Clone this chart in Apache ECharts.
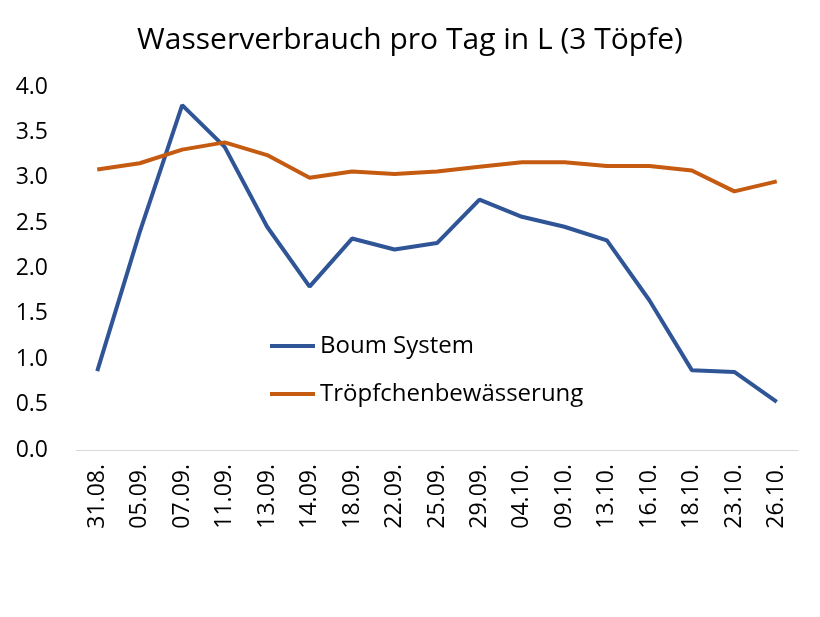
<!DOCTYPE html>
<html><head><meta charset="utf-8">
<script src="https://cdn.jsdelivr.net/npm/echarts@6/dist/echarts.min.js"></script>
<style>html,body{margin:0;padding:0;background:#fff}#c{width:820px;height:617px}</style>
</head><body><div id="c"></div>
<script>
const categories = ['31.08.','05.09.','07.09.','11.09.','13.09.','14.09.','18.09.','22.09.','25.09.','29.09.','04.10.','09.10.','13.10.','16.10.','18.10.','23.10.','26.10.'];
const boumSystem = [0.87,2.40,3.80,3.34,2.46,1.80,2.33,2.21,2.28,2.76,2.57,2.46,2.31,1.65,0.88,0.86,0.53];
const troepfchen = [3.09,3.16,3.31,3.39,3.25,3.00,3.07,3.04,3.07,3.12,3.17,3.17,3.13,3.13,3.08,2.85,2.96];
const yTicks = {min:0, max:4, interval:0.5};
const FONT = '"Open Sans", sans-serif';
const chart = echarts.init(document.getElementById('c'));
chart.setOption({
  animation:false,
  backgroundColor:'#fff',
  title:{text:'Wasserverbrauch pro Tag in L (3 Töpfe)',left:'center',top:20,
    textStyle:{fontFamily:FONT,fontSize:30,fontWeight:'normal',color:'#000'}},
  legend:{orient:'vertical',left:265,top:329,itemGap:24,icon:'rect',itemWidth:45,itemHeight:4,
    textStyle:{fontFamily:FONT,fontSize:24,color:'#000'},
    data:['Boum System','Tröpfchenbewässerung']},
  grid:{left:76,right:22,top:87,bottom:167,containLabel:false},
  xAxis:{type:'category',data:categories,boundaryGap:true,
    axisLine:{lineStyle:{color:'#d9d9d9',width:1}},axisTick:{show:false},
    axisLabel:{rotate:90,fontFamily:FONT,fontSize:23,color:'#000',margin:14,interval:0}},
  yAxis:{type:'value',min:yTicks.min,max:yTicks.max,interval:yTicks.interval,
    splitLine:{show:false},axisLine:{show:false},axisTick:{show:false},
    axisLabel:{fontFamily:FONT,fontSize:23,color:'#000',margin:28,formatter:v=>v.toFixed(1)}},
  series:[
    {name:'Boum System',type:'line',data:boumSystem,symbol:'none',color:'#2F5597',
      lineStyle:{width:4,color:'#2F5597'}},
    {name:'Tröpfchenbewässerung',type:'line',data:troepfchen,symbol:'none',color:'#C55A11',
      lineStyle:{width:4,color:'#C55A11'}}
  ]
});
</script></body></html>
